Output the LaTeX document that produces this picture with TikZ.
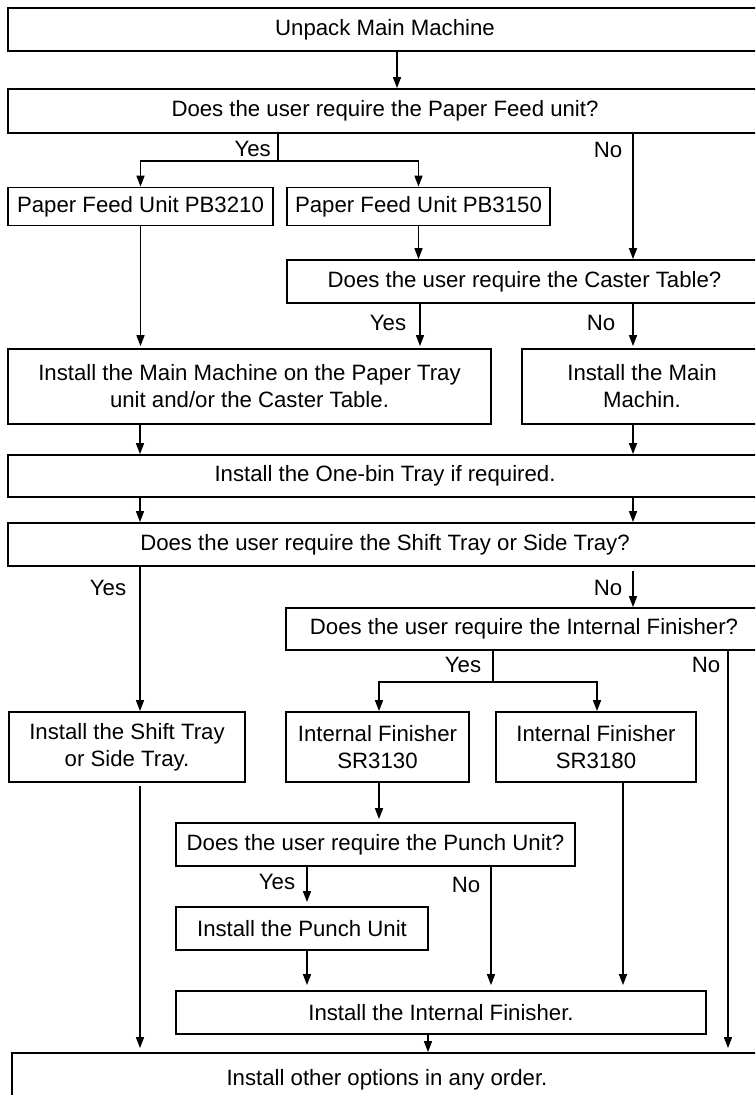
\documentclass[tikz,border=0pt]{standalone}
\usepackage{fontspec}
\setmainfont{Liberation Sans}
\usetikzlibrary{arrows.meta}
\tikzset{
	box/.style={draw, line width=1.8pt, inner sep=0pt, align=center, font=\fontsize{22.2}{27}\selectfont},
	lbl/.style={inner sep=0pt, font=\fontsize{22.2}{27}\selectfont},
	ln/.style={line width=1.6pt},
	arr/.style={line width=1.6pt, -{Triangle[length=11pt,width=8pt]}},
}
\begin{document}
\begin{tikzpicture}[x=1pt,y=-1pt]
		\useasboundingbox (0,0) rectangle (755,1095);
		\clip (0,0) rectangle (755,1095);
		% columns of the connectors
		\coordinate (cA) at (140,0);
		\coordinate (cB) at (397,0);
		\coordinate (cD) at (420,0);
		\coordinate (cE) at (633,0);
		\coordinate (cG) at (379,0);
		\coordinate (cH) at (597,0);
		\coordinate (cF) at (623,0);
		\coordinate (cI) at (728,0);
		\coordinate (cJ) at (307,0);
		\coordinate (cK) at (491,0);
		\coordinate (cL) at (428,0);
		\coordinate (split1) at (278,161);
		\coordinate (split2) at (493,682);
		
		\node[box, minimum width=754pt, minimum height=43pt] (unpack) at (385,29.5) {Unpack Main Machine};
		\node[box, minimum width=754pt, minimum height=44pt] (paperq) at (385,111) {Does the user require the Paper Feed unit?};
		\node[box, minimum width=265pt, minimum height=38pt] (pb3210) at (140.5,206.5) {Paper Feed Unit PB3210};
		\node[box, minimum width=263pt, minimum height=38pt] (pb3150) at (418.5,206.5) {Paper Feed Unit PB3150};
		\node[box, minimum width=475pt, minimum height=43pt] (casterq) at (524.5,281.5) {Does the user require the Caster Table?};
		\node[box, minimum width=483pt, minimum height=75pt] (mainm) at (249.5,386.5) {Install the Main Machine on the Paper Tray\\unit and/or the Caster Table.};
		\node[box, minimum width=240pt, minimum height=75pt] (machin) at (642,386.5) {Install the Main\\Machin.};
		\node[box, minimum width=754pt, minimum height=42pt] (onebin) at (385,476) {Install the One-bin Tray if required.};
		\node[box, minimum width=754pt, minimum height=43pt] (shiftq) at (385,544.5) {Does the user require the Shift Tray or Side Tray?};
		\node[box, minimum width=476pt, minimum height=42pt] (intfinq) at (524,629) {Does the user require the Internal Finisher?};
		\node[box, minimum width=236pt, minimum height=70pt] (shifttray) at (127,747) {Install the Shift Tray\\or Side Tray.};
		\node[box, minimum width=183pt, minimum height=70pt] (sr3130) at (377.5,747) {Internal Finisher\\SR3130};
		\node[box, minimum width=200pt, minimum height=70pt] (sr3180) at (596,747) {Internal Finisher\\SR3180};
		\node[box, minimum width=399pt, minimum height=43pt] (punchq) at (375.5,844.5) {Does the user require the Punch Unit?};
		\node[box, minimum width=252pt, minimum height=43pt] (punch) at (302,928.5) {Install the Punch Unit};
		\node[box, minimum width=530pt, minimum height=43pt] (intfin) at (441,1012.5) {Install the Internal Finisher.};
		\node[box, minimum width=750pt, minimum height=54pt] (other) at (387,1080) {Install other options in any order.};
		
		% Yes / No labels
		\node[lbl, anchor=east] (yesA) at (271,149) {Yes};
		\node[lbl] (noA) at (608,150) {No};
		\node[lbl] (yesB) at (388,323) {Yes};
		\node[lbl] (noB) at (601,323) {No};
		\node[lbl] (yesC) at (108,588) {Yes};
		\node[lbl] (noC) at (608,588) {No};
		\node[lbl] (yesD) at (463,665) {Yes};
		\node[lbl] (noD) at (706,665) {No};
		\node[lbl] (yesE) at (277,882) {Yes};
		\node[lbl] (noE) at (466,885) {No};
		
		\draw[arr] (cB |- unpack.south) -- (cB |- paperq.north);
		\draw[ln] (split1 |- paperq.south) -- (split1);
		\draw[arr] (split1) -| (pb3210.north);
		\draw[arr] (split1) -| (pb3150.north);
		\draw[arr] (cE |- paperq.south) -- (cE |- casterq.north);
		\draw[arr] (pb3150.south) -- (pb3150.south |- casterq.north);
		\draw[arr, shorten >=2pt] (pb3210.south) -- (pb3210.south |- mainm.north);
		\draw[arr, shorten >=2pt] (cD |- casterq.south) -- (cD |- mainm.north);
		\draw[arr, shorten >=2pt] (cE |- casterq.south) -- (cE |- machin.north);
		\draw[arr] (cA |- mainm.south) -- (cA |- onebin.north);
		\draw[arr] (cE |- machin.south) -- (cE |- onebin.north);
		\draw[arr] (cA |- onebin.south) -- (cA |- shiftq.north);
		\draw[arr] (cE |- onebin.south) -- (cE |- shiftq.north);
		\draw[arr] (cA |- shiftq.south) -- (cA |- shifttray.north);
		\draw[arr, shorten <=4pt] (cE |- shiftq.south) -- (cE |- intfinq.north);
		\draw[ln] (split2 |- intfinq.south) -- (split2);
		\draw[arr] (split2) -| (cG |- sr3130.north);
		\draw[arr] (split2) -| (cH |- sr3180.north);
		\draw[arr, shorten >=4pt] (cI |- intfinq.south) -- (cI |- other.north);
		\draw[arr, shorten <=3pt, shorten >=4pt] (cA |- shifttray.south) -- (cA |- other.north);
		\draw[arr, shorten >=3pt] (cG |- sr3130.south) -- (cG |- punchq.north);
		\draw[arr, shorten >=5pt] (cF |- sr3180.south) -- (cF |- intfin.north);
		\draw[arr, shorten >=4pt] (cJ |- punchq.south) -- (cJ |- punch.north);
		\draw[arr, shorten >=5pt] (cK |- punchq.south) -- (cK |- intfin.north);
		\draw[arr, shorten >=5pt] (cJ |- punch.south) -- (cJ |- intfin.north);
		\draw[arr] (cL |- intfin.south) -- (cL |- other.north);
		
	\end{tikzpicture}
\end{document}
